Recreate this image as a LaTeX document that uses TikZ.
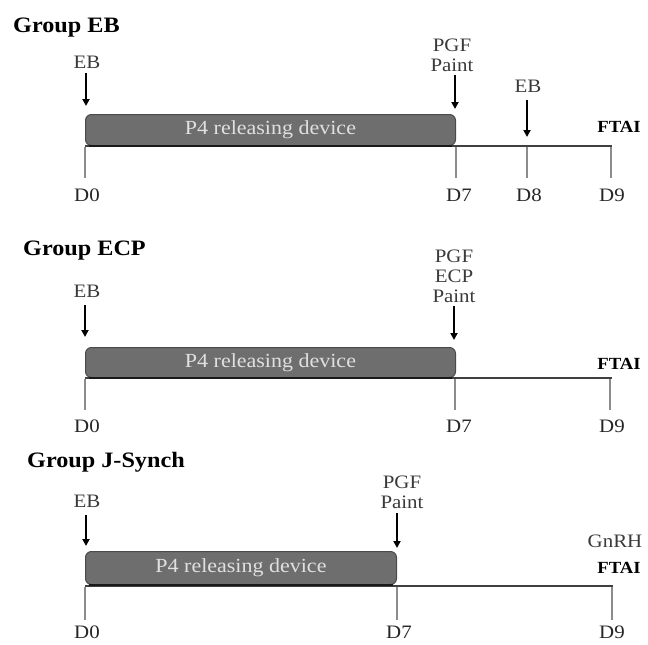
\documentclass[tikz,border=0pt]{standalone}
\usepackage{fontspec}
\setmainfont[FakeStretch=1.1]{Liberation Serif}
\usetikzlibrary{arrows.meta}
\definecolor{barfill}{HTML}{6E6E6E}
\definecolor{barline}{HTML}{4A4A4A}
\definecolor{lbl}{HTML}{3A3A3A}
\tikzset{
 grouptitle/.style={font=\fontsize{22}{24}\selectfont\bfseries, anchor=base west, inner sep=0},
 lab/.style={font=\fontsize{19}{20}\selectfont, text=lbl, inner sep=0, align=center},
 dlab/.style={font=\fontsize{19}{20}\selectfont, text=black!85, inner sep=0},
 ftai/.style={font=\fontsize{17}{20}\selectfont\bfseries, inner sep=0},
 device/.style={draw=barline, fill=barfill, rounded corners=6pt, line width=1pt, text=white!88!black, font=\fontsize{20}{22}\selectfont, inner sep=0, anchor=north west},
 axisline/.style={draw=black!75, line width=1.6pt},
 barbase/.style={draw=black!90, line width=1.8pt},
 tickline/.style={draw=black!45, line width=1.3pt},
 evarrow/.style={-{Triangle[length=7pt,width=7pt]}, line width=1.8pt},
}
\begin{document}
\begin{tikzpicture}[x=1pt,y=-1pt]
\useasboundingbox (0,0) rectangle (648,645);
% ---------------- Group EB ----------------
\node[grouptitle] (t1) at (13,32) {Group EB};
\node[device, minimum width=370pt, minimum height=31pt] (bar1) at (85,114) {P4 releasing device};
\coordinate (a1s) at (85,146); \coordinate (a1e) at (612,146);
\draw[axisline] (a1s) -- (a1e);
\draw[barbase] ([xshift=4pt]bar1.south west) -- ([xshift=-4pt]bar1.south east);
\node[lab] (eb1) at (87,62) {EB};
\coordinate (eb1e) at (86,106);
\draw[evarrow] (86,73) -- (eb1e);
\node[lab] (pgf1) at (452,55) {PGF\\Paint};
\coordinate (pgf1e) at (455,109);
\draw[evarrow] (455,75) -- (pgf1e);
\node[lab] (eb1b) at (528,86) {EB};
\coordinate (eb1be) at (527,137);
\draw[evarrow] (527,100) -- (eb1be);
\node[ftai] (ftai1) at (619,127) {FTAI};
\node[dlab] (d10) at (87,195) {D0};
\node[dlab] (d17) at (459,195) {D7};
\node[dlab] (d18) at (529,195) {D8};
\node[dlab] (d19) at (612,195) {D9};
\foreach \x in {85,456,527,611}
  \draw[tickline] (\x,147) -- (\x,178);
% ---------------- Group ECP ----------------
\node[grouptitle] (t2) at (23,255) {Group ECP};
\node[device, minimum width=370pt, minimum height=30pt] (bar2) at (85,347) {P4 releasing device};
\coordinate (a2s) at (85,378); \coordinate (a2e) at (612,378);
\draw[axisline] (a2s) -- (a2e);
\draw[barbase] ([xshift=4pt]bar2.south west) -- ([xshift=-4pt]bar2.south east);
\node[lab] (eb2) at (87,291) {EB};
\coordinate (eb2e) at (85,337);
\draw[evarrow] (85,305) -- (eb2e);
\node[lab] (pgf2) at (454,276) {PGF\\ECP\\Paint};
\coordinate (pgf2e) at (454,340);
\draw[evarrow] (454,306) -- (pgf2e);
\node[ftai] (ftai2) at (619,364) {FTAI};
\node[dlab] (d20) at (87,426) {D0};
\node[dlab] (d27) at (459,426) {D7};
\node[dlab] (d29) at (612,426) {D9};
\foreach \x in {85,455,610}
  \draw[tickline] (\x,379) -- (\x,410);
% ---------------- Group J-Synch ----------------
\node[grouptitle] (t3) at (27,467) {Group J-Synch};
\node[device, minimum width=311pt, minimum height=33pt] (bar3) at (85,551) {P4 releasing device};
\coordinate (a3s) at (85,586); \coordinate (a3e) at (613,586);
\draw[axisline] (a3s) -- (a3e);
\draw[barbase] ([xshift=4pt]bar3.south west) -- ([xshift=-4pt]bar3.south east);
\node[lab] (eb3) at (87,501) {EB};
\coordinate (eb3e) at (86,546);
\draw[evarrow] (86,515) -- (eb3e);
\node[lab] (pgf3) at (402,492) {PGF\\Paint};
\coordinate (pgf3e) at (397,548);
\draw[evarrow] (397,513) -- (pgf3e);
\node[lab] (gnrh) at (615,541) {GnRH};
\node[ftai] (ftai3) at (619,568) {FTAI};
\node[dlab] (d30) at (87,632) {D0};
\node[dlab] (d37) at (399,632) {D7};
\node[dlab] (d39) at (612,632) {D9};
\foreach \x in {85,397,612}
  \draw[tickline] (\x,587) -- (\x,620);
\end{tikzpicture}
\end{document}
